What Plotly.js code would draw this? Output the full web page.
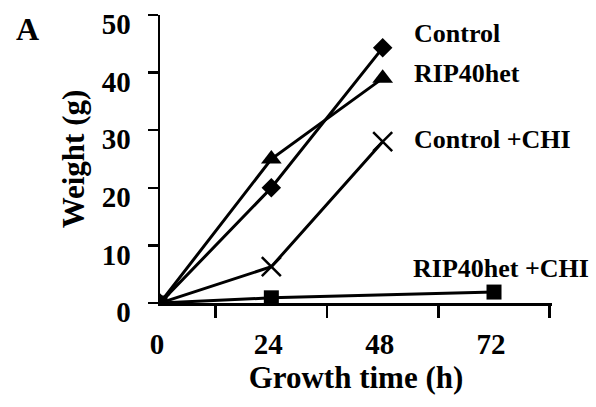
<!DOCTYPE html>
<html>
<head>
<meta charset="utf-8">
<script src="https://cdn.plot.ly/plotly-3.0.1.min.js"></script>
<style>html,body{margin:0;padding:0;background:#fff;}#chart{width:596px;height:407px;}</style>
</head>
<body>
<div id="chart"></div>
<script>
const hours = [0, 24, 48, 72];
const tickLabels = ['0', '24', '48', '72'];
const boundaryTicks = [12, 36, 60, 84];
const yTicks = [0, 10, 20, 30, 40, 50];

const controlX = [0, 24, 48];
const controlY = [0, 20, 44.3];
const ripX = [0, 24, 48];
const ripY = [0, 25, 39];
const controlChiX = [0, 24, 48];
const controlChiY = [0, 6.3, 28];
const ripChiX = [0, 24, 72];
const ripChiY = [0, 0.9, 1.9];

const seriesNames = ['Control', 'RIP40het', 'Control +CHI', 'RIP40het +CHI'];

const FONT = 'Times New Roman, Liberation Serif, serif';
const lineStyle = {color: '#000', width: 3};

const traces = [
  {x: controlX, y: controlY, name: seriesNames[0], mode: 'lines+markers', line: lineStyle,
   marker: {symbol: 'diamond', size: 15, color: '#000'}},
  {x: ripX, y: ripY, name: seriesNames[1], mode: 'lines+markers', line: lineStyle,
   marker: {symbol: 'triangle-up', size: 18, color: '#000'}},
  {x: controlChiX, y: controlChiY, name: seriesNames[2], mode: 'lines+markers', line: lineStyle,
   marker: {symbol: 'x-thin-open', size: 19, color: '#000', line: {width: 2.5, color: '#000'}}},
  {x: ripChiX, y: ripChiY, name: seriesNames[3], mode: 'lines+markers', line: lineStyle,
   marker: {symbol: 'square', size: 15, color: '#000'}}
];

const labelPos = [
  {x: 54.3, y: 46.8},
  {x: 54.3, y: 39.9},
  {x: 54.3, y: 28.4},
  {x: 54.0, y: 6.0}
];

const W = 596, H = 407, mL = 160, mR = 44, mT = 15, mB = 104;

const annotations = seriesNames.map((t, i) => ({
  text: t, x: labelPos[i].x, y: labelPos[i].y, xref: 'x', yref: 'y',
  xanchor: 'left', yanchor: 'middle', showarrow: false,
  font: {family: FONT, size: 26, color: '#000', weight: 'bold'}
}));
annotations.push({
  text: 'A', x: (14 - mL) / (W - mL - mR), y: (H - mB - 29) / (H - mT - mB),
  xref: 'paper', yref: 'paper', xanchor: 'left', yanchor: 'middle',
  showarrow: false, font: {family: FONT, size: 32, color: '#000', weight: 'bold'}
});

const layout = {
  width: W, height: H,
  margin: {l: mL, r: mR, t: mT, b: mB, pad: 0},
  paper_bgcolor: '#fff', plot_bgcolor: '#fff',
  showlegend: false,
  font: {family: FONT, color: '#000'},
  xaxis: {
    range: [0, 84.5], showgrid: false, zeroline: false,
    showline: true, linecolor: '#000', linewidth: 2.5,
    tickmode: 'array', tickvals: hours, ticktext: tickLabels,
    ticks: '', ticklabelstandoff: 14, ticklabelshift: -3,
    tickfont: {family: FONT, size: 29, color: '#000', weight: 'bold'},
    minor: {tickmode: 'array', tickvals: boundaryTicks, ticks: 'outside', ticklen: 12, tickwidth: 2.5, tickcolor: '#000', showgrid: false},
    title: {text: 'Growth time (h)', font: {family: FONT, size: 31, color: '#000', weight: 'bold'}, standoff: 2}
  },
  yaxis: {
    range: [0, 50], showgrid: false, zeroline: false,
    showline: true, linecolor: '#000', linewidth: 2.5,
    tickmode: 'array', tickvals: yTicks, ticktext: yTicks.map(String),
    ticks: 'outside', ticklen: 10, tickwidth: 2.5, tickcolor: '#000',
    ticklabelstandoff: 11, ticklabelshift: 9,
    tickfont: {family: FONT, size: 29, color: '#000', weight: 'bold'},
    title: {text: 'Weight (g)', font: {family: FONT, size: 31, color: '#000', weight: 'bold'}, standoff: 8}
  },
  annotations: annotations
};

Plotly.newPlot('chart', traces, layout, {staticPlot: true, displayModeBar: false});
</script>
</body>
</html>
